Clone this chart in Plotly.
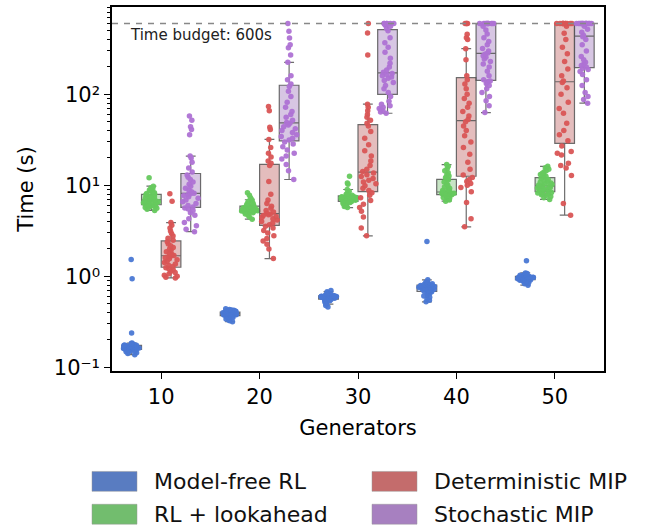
import plotly.graph_objects as go

# ---- data: solve time (s) per instance, by method and number of generators ----
generators = ["10", "20", "30", "40", "50"]
methods = ["Model-free RL", "RL + lookahead", "Deterministic MIP", "Stochastic MIP"]

model_free_10 = [0.138, 0.142, 0.145, 0.148, 0.150, 0.152, 0.154, 0.155, 0.156, 0.157,
                 0.158, 0.159, 0.160, 0.161, 0.162, 0.163, 0.163, 0.164, 0.165, 0.165,
                 0.166, 0.167, 0.168, 0.168, 0.169, 0.170, 0.171, 0.172, 0.173, 0.174,
                 0.175, 0.176, 0.178, 0.179, 0.181, 0.183, 0.185, 0.238, 0.94, 1.53]
model_free_20 = [0.318, 0.325, 0.332, 0.340, 0.348, 0.352, 0.356, 0.360, 0.364, 0.368,
                 0.371, 0.374, 0.376, 0.378, 0.380, 0.382, 0.384, 0.385, 0.387, 0.388,
                 0.389, 0.391, 0.392, 0.394, 0.395, 0.397, 0.398, 0.400, 0.402, 0.404,
                 0.406, 0.408, 0.411, 0.414, 0.417, 0.420, 0.424, 0.428, 0.433, 0.440]
model_free_30 = [0.462, 0.478, 0.495, 0.510, 0.522, 0.532, 0.540, 0.547, 0.553, 0.558,
                 0.562, 0.566, 0.570, 0.574, 0.577, 0.580, 0.583, 0.585, 0.588, 0.590,
                 0.592, 0.594, 0.596, 0.598, 0.600, 0.602, 0.604, 0.606, 0.608, 0.610,
                 0.613, 0.617, 0.622, 0.628, 0.635, 0.642, 0.650, 0.662, 0.678, 0.700]
model_free_40 = [0.525, 0.545, 0.570, 0.590, 0.610, 0.630, 0.645, 0.660, 0.670, 0.678,
                 0.685, 0.692, 0.700, 0.708, 0.715, 0.722, 0.729, 0.735, 0.740, 0.745,
                 0.750, 0.755, 0.760, 0.766, 0.772, 0.778, 0.784, 0.790, 0.795, 0.800,
                 0.805, 0.812, 0.820, 0.828, 0.836, 0.845, 0.860, 0.880, 0.915, 2.41]
model_free_50 = [0.800, 0.830, 0.855, 0.870, 0.885, 0.895, 0.902, 0.908, 0.913, 0.918,
                 0.922, 0.926, 0.930, 0.934, 0.938, 0.942, 0.946, 0.950, 0.954, 0.958,
                 0.962, 0.966, 0.970, 0.974, 0.978, 0.982, 0.986, 0.990, 0.994, 0.998,
                 1.003, 1.010, 1.018, 1.026, 1.035, 1.045, 1.058, 1.072, 1.090, 1.48]

lookahead_10 = [5.3, 5.45, 5.6, 5.7, 5.8, 5.9, 5.95, 6.0, 6.05, 6.1,
                6.15, 6.25, 6.35, 6.45, 6.55, 6.6, 6.7, 6.75, 6.8, 6.9,
                6.95, 7.0, 7.1, 7.2, 7.3, 7.4, 7.5, 7.6, 7.75, 7.9,
                8.0, 8.15, 8.3, 8.5, 8.7, 8.9, 9.1, 9.4, 9.8, 12.1]
lookahead_20 = [4.25, 4.5, 4.7, 4.85, 4.95, 5.0, 5.05, 5.08, 5.11, 5.14,
                5.17, 5.2, 5.23, 5.26, 5.3, 5.33, 5.36, 5.39, 5.42, 5.45,
                5.48, 5.52, 5.56, 5.6, 5.64, 5.68, 5.72, 5.77, 5.82, 5.88,
                5.95, 6.05, 6.15, 6.3, 6.5, 6.7, 6.95, 7.3, 7.8, 8.3]
lookahead_30 = [5.7, 5.85, 6.0, 6.15, 6.3, 6.4, 6.5, 6.55, 6.6, 6.65,
                6.7, 6.75, 6.8, 6.85, 6.9, 6.95, 7.0, 7.05, 7.1, 7.2,
                7.22, 7.25, 7.28, 7.32, 7.36, 7.4, 7.45, 7.5, 7.55, 7.6,
                7.7, 7.8, 7.95, 8.1, 8.3, 8.6, 9.0, 10.3, 10.6, 12.6]
lookahead_40 = [6.7, 6.9, 7.05, 7.2, 7.35, 7.5, 7.6, 7.7, 7.8, 7.9,
                7.95, 8.0, 8.05, 8.1, 8.15, 8.2, 8.25, 8.3, 8.35, 8.4,
                8.5, 8.65, 8.8, 9.0, 9.3, 9.6, 10.0, 10.4, 10.9, 11.5,
                11.8, 12.0, 12.2, 12.7, 13.2, 13.8, 14.5, 15.3, 16.2, 16.9]
lookahead_50 = [7.0, 7.3, 7.55, 7.75, 7.9, 8.05, 8.15, 8.25, 8.35, 8.45,
                8.6, 8.75, 8.9, 9.05, 9.2, 9.35, 9.5, 9.6, 9.7, 9.8,
                9.9, 10.05, 10.2, 10.4, 10.6, 10.8, 11.05, 11.3, 11.6, 12.0,
                12.3, 12.6, 12.9, 13.2, 13.6, 14.0, 14.5, 15.0, 15.6, 16.2]

deterministic_10 = [0.96, 0.98, 1.0, 1.03, 1.07, 1.1, 1.14, 1.18, 1.21, 1.24,
                    1.28, 1.32, 1.37, 1.42, 1.47, 1.52, 1.56, 1.6, 1.64, 1.67,
                    1.7, 1.75, 1.8, 1.86, 1.93, 2.0, 2.08, 2.17, 2.27, 2.4,
                    2.5, 2.62, 2.78, 2.95, 3.15, 3.4, 3.65, 3.9, 6.7, 8.1]
deterministic_20 = [1.57, 2.0, 2.25, 2.45, 2.6, 2.8, 3.0, 3.2, 3.4, 3.55,
                    3.7, 3.85, 4.0, 4.15, 4.3, 4.45, 4.55, 4.65, 4.75, 4.85,
                    4.95, 5.1, 5.3, 5.6, 5.9, 6.3, 6.9, 8.0, 11.0, 16.5,
                    17.5, 18.5, 20.5, 22.5, 26.0, 32.0, 41.0, 43.5, 66.0, 73.5]
deterministic_30 = [2.79, 3.4, 4.5, 5.2, 5.7, 6.2, 6.8, 7.3, 7.8, 8.3,
                    8.8, 9.3, 9.9, 10.4, 10.9, 11.4, 11.9, 12.5, 13.1, 13.7,
                    14.2, 15.0, 16.5, 18.5, 21.0, 24.0, 28.0, 33.0, 39.0, 45.0,
                    48.0, 52.0, 56.0, 60.0, 66.0, 72.0, 78.0, 270.0, 472.0, 600.0]
deterministic_40 = [3.5, 4.3, 6.5, 8.5, 9.5, 10.0, 10.5, 11.0, 11.6, 12.2,
                    13.0, 15.0, 18.0, 22.0, 26.0, 30.0, 35.0, 40.0, 45.0, 50.0,
                    53.0, 58.0, 65.0, 72.0, 80.0, 90.0, 100.0, 115.0, 130.0, 145.0,
                    160.0, 240.0, 318.0, 400.0, 420.0, 457.0, 600.0, 600.0, 600.0, 600.0]
deterministic_50 = [4.7, 6.3, 12.8, 15.5, 16.5, 17.5, 21.5, 22.5, 23.5, 27.0,
                    31.0, 36.0, 40.0, 48.0, 62.0, 70.0, 82.0, 100.0, 118.0, 135.0,
                    140.0, 160.0, 190.0, 230.0, 280.0, 330.0, 400.0, 470.0, 560.0, 600.0,
                    600.0, 600.0, 600.0, 600.0, 600.0, 600.0, 600.0, 600.0, 600.0, 600.0]

stochastic_10 = [3.1, 3.3, 3.6, 3.9, 4.3, 4.7, 5.0, 5.3, 5.5, 5.65,
                 5.8, 6.0, 6.3, 6.6, 6.9, 7.2, 7.5, 7.75, 7.95, 8.1,
                 8.2, 8.5, 8.9, 9.3, 9.8, 10.3, 10.9, 11.6, 12.3, 13.0,
                 14.0, 15.5, 18.0, 20.0, 21.0, 36.0, 41.0, 44.0, 52.0, 58.0]
stochastic_20 = [11.6, 14.5, 17.0, 19.5, 21.0, 22.5, 24.5, 26.5, 28.5, 30.0,
                 31.5, 33.0, 34.5, 36.0, 38.0, 40.0, 42.0, 44.0, 46.0, 48.0,
                 49.0, 52.0, 56.0, 60.0, 65.0, 72.0, 82.0, 95.0, 108.0, 122.0,
                 130.0, 145.0, 160.0, 225.0, 270.0, 326.0, 350.0, 417.0, 493.0, 600.0]
stochastic_30 = [62.0, 64.0, 66.0, 68.0, 70.0, 72.0, 75.0, 78.0, 84.0, 95.0,
                 105.0, 115.0, 125.0, 135.0, 142.0, 150.0, 155.0, 160.0, 165.0, 170.0,
                 175.0, 185.0, 200.0, 220.0, 250.0, 290.0, 330.0, 370.0, 420.0, 500.0,
                 530.0, 560.0, 575.0, 590.0, 600.0, 600.0, 600.0, 600.0, 600.0, 600.0]
stochastic_40 = [63.0, 75.0, 85.0, 95.0, 105.0, 115.0, 125.0, 132.0, 138.0, 140.0,
                 145.0, 160.0, 180.0, 200.0, 215.0, 230.0, 245.0, 255.0, 265.0, 278.0,
                 285.0, 300.0, 320.0, 350.0, 380.0, 420.0, 460.0, 510.0, 560.0, 600.0,
                 600.0, 600.0, 600.0, 600.0, 600.0, 600.0, 600.0, 600.0, 600.0, 600.0]
stochastic_50 = [80.0, 88.0, 95.0, 105.0, 125.0, 145.0, 165.0, 178.0, 188.0, 194.0,
                 200.0, 208.0, 216.0, 225.0, 240.0, 260.0, 300.0, 350.0, 400.0, 430.0,
                 445.0, 480.0, 520.0, 560.0, 600.0, 600.0, 600.0, 600.0, 600.0, 600.0,
                 600.0, 600.0, 600.0, 600.0, 600.0, 600.0, 600.0, 600.0, 600.0, 600.0]

time_budget = 600

# y-axis decades and their labels
y_tick_values = [0.1, 1, 10, 100]
y_tick_labels = ["10⁻¹", "10⁰", "10¹", "10²"]

series = [
    [model_free_10, model_free_20, model_free_30, model_free_40, model_free_50],
    [lookahead_10, lookahead_20, lookahead_30, lookahead_40, lookahead_50],
    [deterministic_10, deterministic_20, deterministic_30, deterministic_40, deterministic_50],
    [stochastic_10, stochastic_20, stochastic_30, stochastic_40, stochastic_50],
]

# ---- styling ----
point_colors = ["#4A78D4", "#66C95E", "#D95555", "#AE72D4"]
patch_colors = ["#597CC1", "#72BD6E", "#C46C6C", "#A780C0"]
box_fills = ["rgba(89,124,193,0.40)", "rgba(114,189,110,0.40)",
             "rgba(196,108,108,0.45)", "rgba(167,128,192,0.45)"]
FONT = "DejaVu Sans"

W, H = 647, 530
L, R, T, B = 112, 43, 5, 159

# log-scale minor ticks at 2..9 within each decade
minor_vals = [m * 10.0 ** e for e in range(-2, 3) for m in range(2, 10)]

fig = go.Figure()

for name, groups, pc, fc in zip(methods, series, point_colors, box_fills):
    xs, ys = [], []
    for g, vals in zip(generators, groups):
        xs += [g] * len(vals)
        ys += vals
    fig.add_trace(go.Box(
        x=xs, y=ys, name=name, showlegend=False,
        boxpoints="all", jitter=0.85, pointpos=0,
        fillcolor=fc,
        line=dict(color="rgba(85,85,85,0.85)", width=1.2),
        whiskerwidth=0.5,
        marker=dict(color=pc, size=5.5, opacity=0.95, line=dict(width=0)),
        hoveron="points",
    ))

# time budget reference line
fig.add_shape(type="line", xref="paper", x0=0, x1=1, yref="y",
              y0=time_budget, y1=time_budget,
              line=dict(color="#888888", width=1.4, dash="6px,6px"))
fig.add_annotation(xref="paper", yref="paper", x=(128 - L) / (W - L - R),
                   y=(H - B - 33) / (H - T - B),
                   text=f"Time budget: {time_budget}s", showarrow=False,
                   xanchor="left", yanchor="middle",
                   font=dict(family=FONT, size=15, color="#222222"))


# legend drawn as a two-column block of colour patches beneath the axes
def px_x(px):
    return (px - L) / (W - L - R)


def px_y(py):
    return (H - B - py) / (H - T - B)


legend_slots = [(92, 482), (92, 515), (372, 482), (372, 515)]
for (lx, ly), name, col in zip(legend_slots, methods, patch_colors):
    fig.add_shape(type="rect", xref="paper", yref="paper",
                  x0=px_x(lx), x1=px_x(lx + 45), y0=px_y(ly + 10), y1=px_y(ly - 10),
                  fillcolor=col, line=dict(color="rgba(150,150,150,0.6)", width=0.8))
    fig.add_annotation(xref="paper", yref="paper", x=px_x(lx + 60), y=px_y(ly),
                       text=name, showarrow=False, xanchor="left", yanchor="middle",
                       font=dict(family=FONT, size=22, color="#111111"))

fig.update_layout(
    width=W, height=H,
    margin=dict(l=L, r=R, t=T, b=B),
    paper_bgcolor="white", plot_bgcolor="white",
    boxmode="group", boxgap=0.2, boxgroupgap=0,
    font=dict(family=FONT, size=21, color="black"),
    showlegend=False,
)
fig.update_xaxes(
    type="category", categoryorder="array", categoryarray=generators,
    range=[-0.5, 4.5],
    showline=True, linecolor="black", linewidth=1.5, mirror=True,
    ticks="outside", ticklen=6, tickwidth=1.2, tickcolor="black",
    showgrid=False, zeroline=False,
    tickfont=dict(family=FONT, size=21),
    title=dict(text="Generators", font=dict(family=FONT, size=21), standoff=12),
)
fig.update_yaxes(
    type="log", range=[-1.04, 2.96],
    tickmode="array", tickvals=y_tick_values, ticktext=y_tick_labels,
    showline=True, linecolor="black", linewidth=1.5, mirror=True,
    ticks="outside", ticklen=6, tickwidth=1.2, tickcolor="black",
    minor=dict(tickmode="array", tickvals=minor_vals, ticks="outside",
               ticklen=3.5, tickwidth=1, tickcolor="black", showgrid=False),
    showgrid=False, zeroline=False,
    tickfont=dict(family=FONT, size=21),
    title=dict(text="Time (s)", font=dict(family=FONT, size=21), standoff=14),
)

fig.write_html("out.html")
